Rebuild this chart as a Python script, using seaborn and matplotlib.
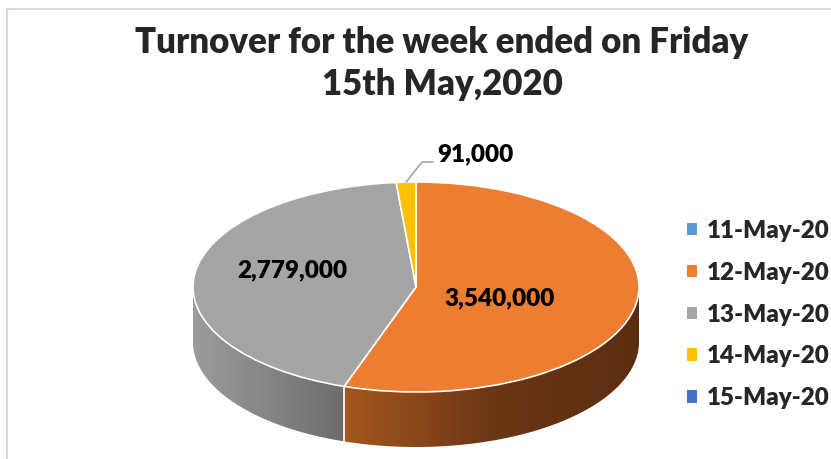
import numpy as np
import matplotlib
matplotlib.use("Agg")
import matplotlib.pyplot as plt
import seaborn as sns
from matplotlib.patches import Polygon, Patch, Rectangle
from matplotlib.colors import LinearSegmentedColormap

# ---------------- data ----------------
dates = ["11-May-20", "12-May-20", "13-May-20", "14-May-20", "15-May-20"]
turnover = [0, 3540000, 2779000, 91000, 0]
colors = ["#5B9BD5", "#ED7D31", "#A5A5A5", "#FFC000", "#4472C4"]
side_colors = {
    "12-May-20": ["#a5561f", "#6c3615", "#5a2d11"],
    "13-May-20": ["#9c9c9c", "#858585", "#6c6c6c"],
    "14-May-20": ["#c79600", "#a07800", "#8a6800"],
}
title_lines = ["Turnover for the week ended on Friday", "15th May,2020"]

sns.set_style("white")
plt.rcParams["font.family"] = ["Lato", "DejaVu Sans"]
WEIGHT = "heavy"

W, H = 831, 459
fig = plt.figure(figsize=(W / 100, H / 100), dpi=100)
ax = fig.add_axes([0, 0, 1, 1])

# pixel -> data mapping (ellipse centre, semi-axes in px)
CX, CY, A, B = 416, 287, 223, 105
DEPTH = 55 / B
def X(px):
    return (px - CX) / A
def Y(py):
    return (CY - py) / B

nz = [(d, v, c) for d, v, c in zip(dates, turnover, colors) if v > 0]
wedges, _ = ax.pie([v for _, v, _ in nz], colors=[c for _, _, c in nz],
                   startangle=90, counterclock=False, radius=1, center=(0, 0),
                   wedgeprops=dict(edgecolor="white", linewidth=1.2, zorder=3))

# ---------- 3-D side wall (front part of each slice) ----------
boundaries = []
for (d, v, c), w in zip(nz, wedges):
    t1, t2 = w.theta1, w.theta2
    for k in (-1, 0, 1):
        lo, hi = -180 + 360 * k, 0 + 360 * k
        a, b = max(t1, lo), min(t2, hi)
        if b - a <= 0:
            continue
        ts = np.radians(np.linspace(a, b, 200))
        top = np.column_stack([np.cos(ts), np.sin(ts)])
        bot = np.column_stack([np.cos(ts[::-1]), np.sin(ts[::-1]) - DEPTH])
        poly = Polygon(np.vstack([top, bot]), closed=True, transform=ax.transData,
                       facecolor="none", edgecolor="none")
        ax.add_patch(poly)
        xmin, xmax = top[:, 0].min(), top[:, 0].max()
        cmap = LinearSegmentedColormap.from_list(d, side_colors.get(d, [c, c]))
        im = ax.imshow(np.linspace(0, 1, 256).reshape(1, -1), cmap=cmap,
                       extent=[xmin, xmax, -1 - DEPTH, 0.2], aspect="auto",
                       zorder=1, interpolation="bilinear")
        im.set_clip_path(poly)
        for t in (a, b):
            if -179.5 < (t % 360) - 360 < -0.5:
                boundaries.append(t)

for t in set(np.round(boundaries, 6)):
    r = np.radians(t)
    ax.plot([np.cos(r), np.cos(r)], [np.sin(r), np.sin(r) - DEPTH],
            color="white", lw=1.2, zorder=2)

# ---------- data labels ----------
lab_font = dict(fontsize=17.5, fontweight=WEIGHT, color="black", zorder=5)
vals = {d: v for d, v, _ in nz}
ax.text(X(500), Y(298), f"{vals['12-May-20']:,}", ha="center", va="center", **lab_font)
ax.text(X(292), Y(270), f"{vals['13-May-20']:,}", ha="center", va="center", **lab_font)

yw = wedges[[d for d, _, _ in nz].index("14-May-20")]
mid = np.radians((yw.theta1 + yw.theta2) / 2)
px0, py0 = np.cos(mid), np.sin(mid)
ax.plot([px0, X(422), X(433)], [py0, Y(162), Y(162)], color="#a6a6a6", lw=1.2, zorder=4)
ax.text(X(437), Y(154), f"{vals['14-May-20']:,}", ha="left", va="center", **lab_font)

ax.set_aspect("auto")
ax.set_xlim(X(0), X(W))
ax.set_ylim(Y(H), Y(0))
ax.axis("off")

# ---------- title ----------
fig.text(442 / W, 1 - 53 / H, title_lines[0], ha="center", va="baseline",
         fontsize=25, fontweight=WEIGHT)
fig.text(442 / W, 1 - 95 / H, title_lines[1], ha="center", va="baseline",
         fontsize=25, fontweight=WEIGHT)

# ---------- legend ----------
handles = [Patch(facecolor=c, edgecolor="none") for c in colors]
leg = fig.legend(handles, dates, loc="center left",
                 bbox_to_anchor=(687 / W, 1 - 314.5 / H),
                 frameon=False, borderpad=0, borderaxespad=0,
                 handlelength=0.42, handleheight=0.42, handletextpad=0.42,
                 labelspacing=0.82,
                 prop=dict(family=["Lato", "DejaVu Sans"], weight=WEIGHT, size=17.4))

# ---------- chart-area border ----------
fig.add_artist(Rectangle((7 / W, -0.1), 2, (H - 9) / H + 0.1, transform=fig.transFigure,
                         facecolor="none", edgecolor="#d9d9d9", lw=1.5, clip_on=False))

fig.savefig("out.png", dpi=100)
